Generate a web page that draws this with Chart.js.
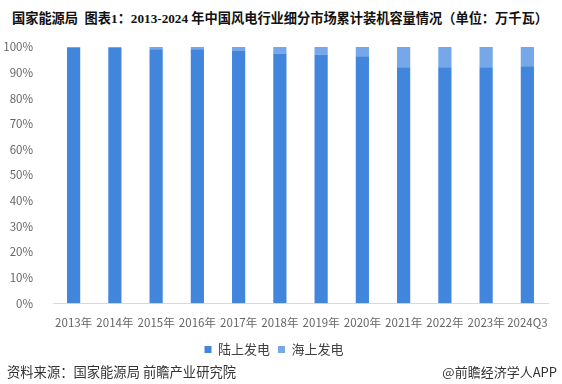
<!DOCTYPE html>
<html>
<head>
<meta charset="utf-8">
<script src="https://cdn.jsdelivr.net/npm/chart.js@4/dist/chart.umd.min.js"></script>
<style>
  body { margin: 0; background: #fff; }
  .wrap { position: relative; width: 562px; height: 384px; overflow: hidden; }
  .title {
    position: absolute; left: 12px; top: 7px;
    font: bold 13.5px "Liberation Serif", "Noto Sans CJK SC", serif;
    color: #111; white-space: nowrap; transform-origin: left top;
  }
  .source {
    position: absolute; left: 7px; top: 362px;
    font: 13.3px "Noto Sans CJK SC", sans-serif; color: #333; white-space: nowrap;
  }
  .brand {
    position: absolute; right: 5px; top: 362px;
    font: 13px "Noto Sans CJK SC", sans-serif; color: #333; white-space: nowrap;
  }
  canvas { position: absolute; left: 0; top: 0; }
</style>
</head>
<body>
<div class="wrap">
  <div class="title" id="title">国家能源局&nbsp; 图表1：2013-2024 年中国风电行业细分市场累计装机容量情况（单位：万千瓦）</div>
  <canvas id="chart" width="562" height="384"></canvas>
  <div class="source">资料来源：国家能源局 前瞻产业研究院</div>
  <div class="brand">@前瞻经济学人APP</div>
</div>
<script>
const years = ['2013年', '2014年', '2015年', '2016年', '2017年', '2018年', '2019年', '2020年', '2021年', '2022年', '2023年', '2024Q3'];
// 占比（%）
const onshoreShare = [99.6, 99.6, 99.1, 99.1, 98.4, 97.5, 97.1, 96.4, 92.1, 92.1, 92.1, 92.5];
const offshoreShare = [0.4, 0.4, 0.9, 0.9, 1.6, 2.5, 2.9, 3.6, 7.9, 7.9, 7.9, 7.5];
const seriesNames = ['陆上发电', '海上发电'];

// 标题拉到和原图一样宽
const titleEl = document.getElementById('title');
titleEl.style.transform = `scaleX(${536 / titleEl.offsetWidth})`;

const tickFont = { family: '"Noto Sans CJK SC", sans-serif', size: 11.5 };

new Chart(document.getElementById('chart'), {
  type: 'bar',
  data: {
    labels: years,
    datasets: [
      {
        label: seriesNames[0],
        data: onshoreShare,
        backgroundColor: '#4285DC',
        barPercentage: 1,
        categoryPercentage: 0.32,
      },
      {
        label: seriesNames[1],
        data: offshoreShare,
        backgroundColor: '#76A7E9',
        barPercentage: 1,
        categoryPercentage: 0.32,
      },
    ]
  },
  options: {
    responsive: false,
    animation: false,
    layout: {
      padding: { left: 0, right: 14, top: 47, bottom: 18 }
    },
    scales: {
      x: {
        stacked: true,
        grid: { display: false },
        border: { color: '#d9d9d9' },
        ticks: { color: '#666', font: tickFont, padding: 5, maxRotation: 0, autoSkip: false },
      },
      y: {
        stacked: true,
        min: 0,
        max: 100,
        grid: { display: false },
        border: { display: false },
        ticks: {
          stepSize: 10,
          color: '#666',
          font: tickFont,
          padding: 12,
          callback: (v) => v + '%',
        },
        afterFit: (scale) => { scale.width = 53; },
      }
    },
    plugins: {
      legend: {
        position: 'bottom',
        labels: {
          boxWidth: 7,
          boxHeight: 7,
          padding: 8,
          color: '#404040',
          font: { family: '"Noto Sans CJK SC", sans-serif', size: 13 },
        }
      },
      tooltip: { enabled: false }
    }
  }
});
</script>
</body>
</html>
